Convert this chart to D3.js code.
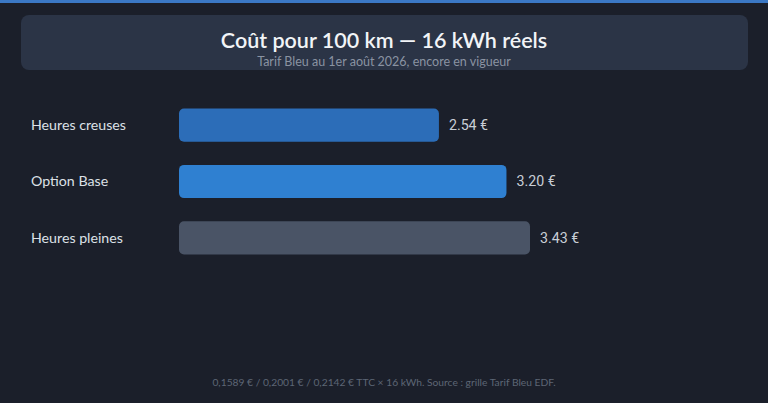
<!DOCTYPE html>
<html><head><meta charset="utf-8">
<script src="https://cdn.jsdelivr.net/npm/d3@7"></script>
<style>
html,body{margin:0;padding:0;background:#1b1f2a;}
svg{display:block;}
</style></head>
<body>
<script>
const categories = ["Heures creuses", "Option Base", "Heures pleines"];
const values = [2.54, 3.20, 3.43];
const valueLabels = ["2.54 €", "3.20 €", "3.43 €"];
const barColors = ["#2c6db8", "#2f80d1", "#4a5466"];
const title = "Coût pour 100 km — 16 kWh réels";
const subtitle = "Tarif Bleu au 1er août 2026, encore en vigueur";
const footer = "0,1589 € / 0,2001 € / 0,2142 € TTC × 16 kWh. Source : grille Tarif Bleu EDF.";

const W = 768, H = 403;
const svg = d3.select("body").append("svg").attr("width", W).attr("height", H);
svg.append("rect").attr("width", W).attr("height", H).attr("fill", "#1b1f2a");
svg.append("rect").attr("width", W).attr("height", 3).attr("fill", "#3b78c4");

svg.append("rect").attr("x", 21).attr("y", 15).attr("width", 727).attr("height", 55)
  .attr("rx", 8).attr("fill", "#2b3446");
svg.append("text").attr("x", 384).attr("y", 48).attr("text-anchor", "middle")
  .attr("font-family", "Lato").attr("font-weight", 600).attr("font-size", 21.5)
  .attr("fill", "#f2f4f7").text(title);
svg.append("text").attr("x", 384).attr("y", 65.5).attr("text-anchor", "middle")
  .attr("font-family", "Lato").attr("font-size", 12.5)
  .attr("fill", "#8a93a2").text(subtitle);

const x = d3.scaleLinear().domain([0, 3.43]).range([179, 530]);
const y = d3.scaleBand().domain(categories).range([97, 266]).paddingInner(0.41).paddingOuter(0.205);

const g = svg.append("g");
g.selectAll("rect.bar").data(categories).join("rect").attr("class", "bar")
  .attr("x", x(0)).attr("y", d => y(d)).attr("height", y.bandwidth())
  .attr("width", (d, i) => x(values[i]) - x(0)).attr("rx", 5)
  .attr("fill", (d, i) => barColors[i]);
g.selectAll("text.cat").data(categories).join("text").attr("class", "cat")
  .attr("x", 31).attr("y", d => y(d) + y.bandwidth() / 2).attr("dy", "0.35em")
  .attr("font-family", "Lato").attr("font-size", 14.2).attr("fill", "#dde1e7").text(d => d);
g.selectAll("text.val").data(categories).join("text").attr("class", "val")
  .attr("x", (d, i) => x(values[i]) + 10).attr("y", d => y(d) + y.bandwidth() / 2).attr("dy", "0.35em")
  .attr("font-family", "Roboto").attr("font-size", 14.2).attr("fill", "#c9ced6")
  .text((d, i) => valueLabels[i]);

svg.append("text").attr("x", 384).attr("y", 386).attr("text-anchor", "middle")
  .attr("font-family", "Lato").attr("font-size", 10.25)
  .attr("fill", "#5d6675").text(footer);
</script>
</body></html>
